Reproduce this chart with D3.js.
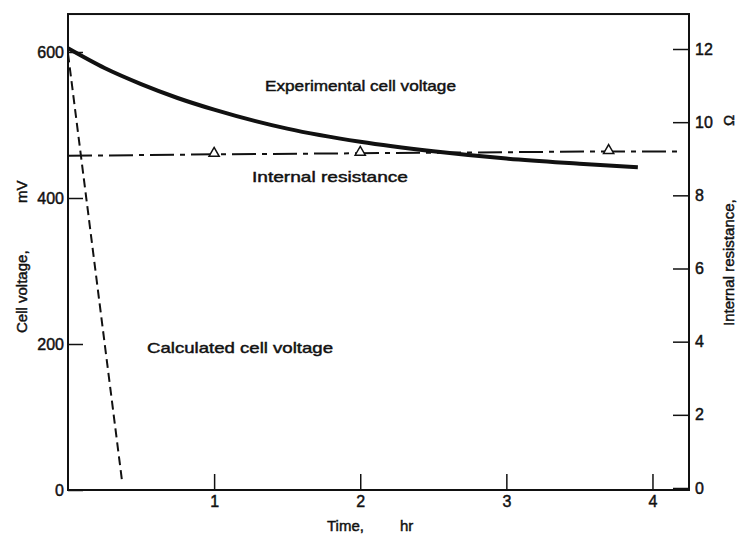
<!DOCTYPE html>
<html>
<head>
<meta charset="utf-8">
<script src="https://cdn.jsdelivr.net/npm/d3@7"></script>
<style>
  body { margin: 0; background: #fff; }
  text { font-family: "Liberation Sans", Arial, sans-serif; fill: #111; stroke: #111; stroke-width: 0.45px; }
</style>
</head>
<body>
<div id="chart"></div>
<script>
'use strict';

// experimental cell voltage (mV) vs time (hr)
const exp_time = [0, 0.25, 0.5, 0.75, 1, 1.5, 2, 2.5, 3, 3.5, 3.9]
const exp_volt = [605, 578, 556, 537, 521, 495, 477, 464, 454, 447, 442]

// calculated cell voltage (mV)
const calc_time = [0, 0.37]
const calc_volt = [598, 12]

// internal resistance (ohm)
const res_time = [0, 1, 2, 3.7, 4.18]
const res_ohm = [9.08, 9.12, 9.15, 9.2, 9.2]
const res_marker_idx = [1, 2, 3]

// tick labels
const x_ticks = [1, 2, 3, 4]
const yl_ticks = [0, 200, 400, 600]
const yr_ticks = [0, 2, 4, 6, 8, 10, 12]

const dimensions = { width: 740, height: 535 }

const svg = d3.select('#chart')
  .append('svg')
  .attr('width', dimensions.width)
  .attr('height', dimensions.height)

// scales
const xScale = d3.scaleLinear().domain([0, 4.25]).range([68, 689])
const yLeft = d3.scaleLinear().domain([0, 600]).range([490, 52])
const yRight = d3.scaleLinear().domain([0, 12]).range([488, 49])

// frame
svg.append('rect')
  .attr('x', xScale(0))
  .attr('y', yLeft(652))
  .attr('width', xScale(4.25) - xScale(0))
  .attr('height', yLeft(0) - yLeft(652))
  .attr('fill', 'none')
  .attr('stroke', '#111')
  .attr('stroke-width', 2)

// axes
const styleAxis = g => {
  g.select('.domain').remove()
  g.selectAll('.tick line').attr('stroke', '#111').attr('stroke-width', 1.5)
  g.selectAll('.tick text')
    .style('font-family', '"Liberation Sans", Arial, sans-serif')
    .style('font-size', '16px')
    .attr('fill', '#111')
}

svg.append('g')
  .attr('transform', `translate(0, ${yLeft(0)})`)
  .call(d3.axisBottom(xScale).tickValues(x_ticks).tickSize(-16).tickPadding(6).tickFormat(d3.format('d')))
  .call(styleAxis)

svg.append('g')
  .attr('transform', `translate(${xScale(0)}, 0)`)
  .call(d3.axisLeft(yLeft).tickValues(yl_ticks).tickSize(-15).tickPadding(4).tickFormat(d3.format('d')))
  .call(styleAxis)

svg.append('g')
  .attr('transform', `translate(${xScale(4.25)}, 0)`)
  .call(d3.axisRight(yRight).tickValues(yr_ticks).tickSize(-16).tickPadding(6).tickFormat(d3.format('d')))
  .call(styleAxis)

// experimental curve
const expLine = d3.line()
  .x((d, i) => xScale(exp_time[i]))
  .y(d => yLeft(d))
  .curve(d3.curveMonotoneX)
svg.append('path')
  .attr('d', expLine(exp_volt))
  .attr('fill', 'none')
  .attr('stroke', '#111')
  .attr('stroke-width', 4)

// calculated curve
const calcLine = d3.line()
  .x((d, i) => xScale(calc_time[i]))
  .y(d => yLeft(d))
svg.append('path')
  .attr('d', calcLine(calc_volt))
  .attr('fill', 'none')
  .attr('stroke', '#111')
  .attr('stroke-width', 2)
  .attr('stroke-dasharray', '9,5')

// internal resistance
const resLine = d3.line()
  .x((d, i) => xScale(res_time[i]))
  .y(d => yRight(d))
svg.append('path')
  .attr('d', resLine(res_ohm))
  .attr('fill', 'none')
  .attr('stroke', '#111')
  .attr('stroke-width', 2)
  .attr('stroke-dasharray', '24,6,5,6')

svg.append('g')
  .selectAll('path')
  .data(res_marker_idx)
  .join('path')
  .attr('transform', i => `translate(${xScale(res_time[i])}, ${yRight(res_ohm[i]) - 1})`)
  .attr('d', d3.symbol(d3.symbolTriangle, 45))
  .attr('fill', '#fff')
  .attr('stroke', '#111')
  .attr('stroke-width', 1.5)

// annotations
const note = (txt, x, y, len) => svg.append('text')
  .attr('x', x).attr('y', y)
  .attr('textLength', len)
  .attr('lengthAdjust', 'spacingAndGlyphs')
  .style('font-size', '15px')
  .text(txt)

note('Experimental cell voltage', 265, 91, 191)
note('Internal resistance', 252, 182, 156)
note('Calculated cell voltage', 147, 353, 186)

// x title
const xt = svg.append('text')
  .attr('y', 531)
  .style('font-size', '15px')
xt.append('tspan').attr('x', 327).text('Time,')
xt.append('tspan').attr('x', 400).text('hr')

// left title
const yt = svg.append('text')
  .attr('transform', 'translate(27, 333) rotate(-90)')
  .style('font-size', '15px')
yt.append('tspan').attr('x', 0).text('Cell voltage,')
yt.append('tspan').attr('x', 130).text('mV')

// right title
const rt = svg.append('text')
  .attr('transform', 'translate(734, 326) rotate(-90)')
  .style('font-size', '15px')
rt.append('tspan').attr('x', 0).text('Internal resistance,')
rt.append('tspan').attr('x', 200).text('Ω')
</script>
</body>
</html>
